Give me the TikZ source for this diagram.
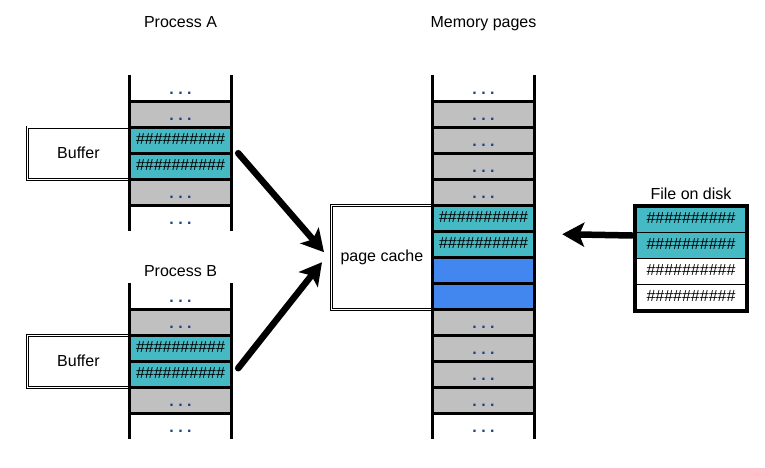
\documentclass[tikz,border=0pt]{standalone}
\usepackage{fontspec}
\setmainfont{Liberation Sans}
\usetikzlibrary{positioning}
\usetikzlibrary{arrows.meta}

\definecolor{pteal}{RGB}{69,186,196}
\definecolor{pgray}{RGB}{192,192,192}
\definecolor{pblue}{RGB}{66,135,240}
\definecolor{pdots}{RGB}{25,65,140}

\newcommand{\hashrow}{\#\#\#\#\#\#\#\#\#\#}
\newcommand{\dotrow}{\raisebox{-2.5pt}{\textcolor{pdots}{\textbf{.\ .\ .}}}}

\begin{document}
\begin{tikzpicture}[x=1pt,y=-1pt,font=\fontsize{16}{19}\selectfont]
			\tikzstyle{cell}=[minimum width=101pt,minimum height=26pt,inner sep=0pt,text height=11pt,text depth=3pt]
			\tikzstyle{sep}=[line width=3pt]
			\tikzstyle{title}=[anchor=base,inner sep=0pt]
			\tikzstyle{dbox}=[draw,double,line width=0.8pt,double distance=1.4pt,inner sep=0pt]
			\tikzstyle{bigarrow}=[line width=6.5pt,line cap=round,-{Stealth[length=22pt,width=24pt,inset=5pt]}]
			\useasboundingbox (0,0) rectangle (765,468);

			% process columns
			\foreach \n/\y in {pa/62,pb/270}{
				\foreach \i/\c/\t in {1/white/\dotrow,2/pgray/\dotrow,3/pteal/\hashrow,4/pteal/\hashrow,5/pgray/\dotrow,6/white/\dotrow}
					\node[cell,fill=\c] (\n\i) at (180.5,\y+26*\i) {\t};
				\foreach \i in {1,...,5}
					\draw[sep] (\n\i.south west) -- (\n\i.south east);
			}

			% memory pages
			\foreach \i/\c/\t in {1/white/\dotrow,2/pgray/\dotrow,3/pgray/\dotrow,4/pgray/\dotrow,5/pgray/\dotrow,
				6/pteal/\hashrow,7/pteal/\hashrow,8/pblue/{},9/pblue/{},
				10/pgray/\dotrow,11/pgray/\dotrow,12/pgray/\dotrow,13/pgray/\dotrow,14/white/\dotrow}
				\node[cell,fill=\c] (m\i) at (483.5,62+26*\i) {\t};
			\foreach \i in {1,...,13}
				\draw[sep] (m\i.south west) -- (m\i.south east);

			% boxes beside the columns
			\node[dbox,minimum width=102pt,minimum height=52pt,left=0pt of pa3.south west] (bufa) {Buffer};
			\node[dbox,minimum width=102pt,minimum height=52pt,left=0pt of pb3.south west] (bufb) {Buffer};
			\node[dbox,minimum width=101pt,minimum height=104pt,left=0pt of m7.south west] (cache) {page cache};

			% column walls
			\foreach \n/\k in {pa/6,pb/6,m/14}{
				\draw[line width=3pt] (\n1.north west) -- (\n\k.south west);
				\draw[line width=3pt] (\n1.north east) -- (\n\k.south east);
			}

			% file on disk
			\foreach \i/\c in {1/pteal,2/pteal,3/white,4/white}
				\node[cell,draw,line width=1pt,minimum width=111pt,fill=\c] (disk\i) at (691,193+26*\i) {\hashrow};
			\draw[line width=4pt] (disk1.north west) rectangle (disk4.south east);

			% titles
			\node[title] (ta) at (180.5,28) {Process A};
			\node[title] (tb) at (180.5,276) {Process B};
			\node[title] (tm) at (483.5,28) {Memory pages};
			\node[title] (td) at (691,199) {File on disk};

			% arrows
			\draw[bigarrow] ([xshift=7pt]pa3.south east) -- ([xshift=-7pt,yshift=5pt]cache.west);
			\draw[bigarrow] ([xshift=7pt,yshift=-7pt]pb3.south east) -- ([xshift=-9pt,yshift=-5pt]cache.west);
			\draw[bigarrow] ([xshift=-3pt,yshift=-3pt]disk1.south west) -- ([xshift=28pt,yshift=-3pt]m6.south east);
		\end{tikzpicture}
\end{document}
